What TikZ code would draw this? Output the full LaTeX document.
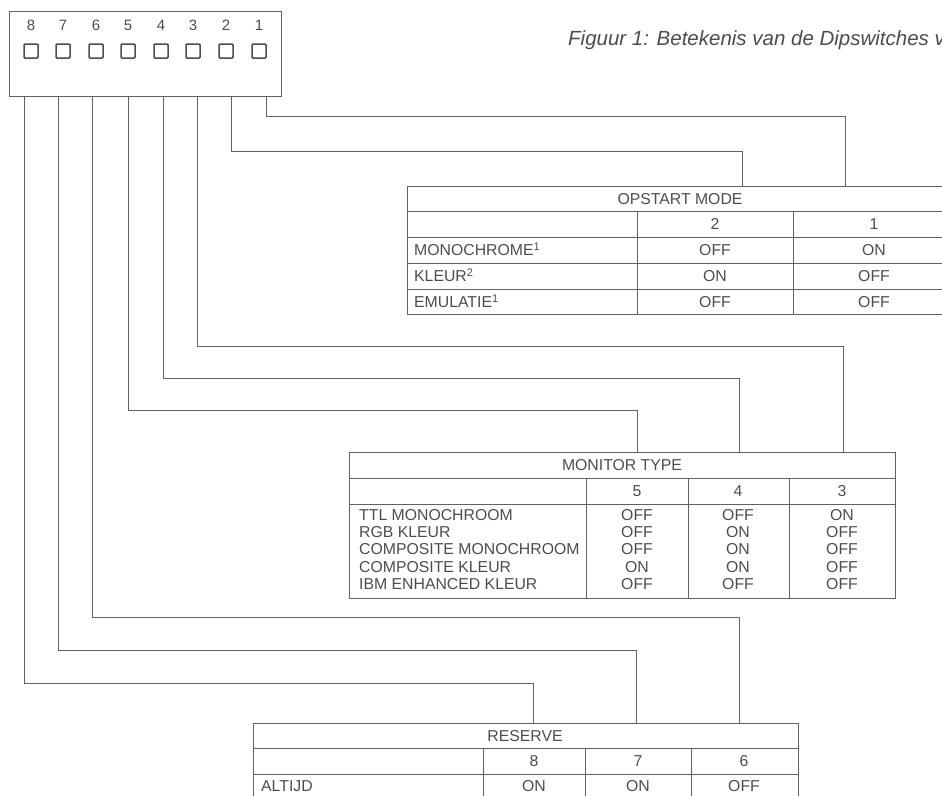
\documentclass[tikz,border=0pt]{standalone}
\usepackage{fontspec}
\setmainfont{Liberation Sans}
\definecolor{ink}{gray}{0.3}
\definecolor{wirec}{gray}{0.38}
\begin{document}
\begin{tikzpicture}[x=1pt,y=-1pt,
  wire/.style={draw=wirec, line width=1pt},
  gridline/.style={draw=wirec, line width=0.9pt},
  frame/.style={draw=wirec, line width=1pt, inner sep=0pt, anchor=north west},
  cell/.style={inner sep=0pt, text=ink, text height=11.2pt, text depth=0pt, font=\fontsize{15.8}{18}\selectfont},
  lcell/.style={cell, anchor=west},
  swsq/.style={draw=ink, line width=1.5pt, minimum size=14pt, inner sep=0pt, rounded corners=1pt},
  swnum/.style={inner sep=0pt, text=ink, font=\fontsize{15}{17}\selectfont},
]
\useasboundingbox (0,0) rectangle (942,795);
\clip (0,0) rectangle (942,795);

% switch box
\node[frame, minimum width=272pt, minimum height=85pt] (box) at (9,11) {};
\foreach \n/\x in {8/31,7/63,6/96,5/128,4/161,3/193,2/226,1/259}{
  \node[swnum] (num\n) at (\x,25) {\n};
  \node[swsq] (sq\n) at (\x,51) {};
}

% title
\node[anchor=west, inner sep=0pt, text=ink, font=\fontsize{20.5}{24}\selectfont\itshape] (title) at (568,40) {Figuur 1: Betekenis van de Dipswitches v};

% pins
\foreach \n/\x in {1/266,2/231,3/197,4/163,5/128,6/92,7/58,8/24}{
  \coordinate (p\n) at (\x,96);
}
% bends
\coordinate (k1) at (266,116);
\coordinate (k2) at (231,151);
\coordinate (k3) at (197,346);
\coordinate (k4) at (163,378);
\coordinate (k5) at (128,410);
\coordinate (k6) at (92,617);
\coordinate (k7) at (58,650);
\coordinate (k8) at (24,683);
% targets
\coordinate (t1) at (845,186);
\coordinate (t2) at (742,186);
\coordinate (t3) at (843,452);
\coordinate (t4) at (739,452);
\coordinate (t5) at (637,452);
\coordinate (t6) at (739,723);
\coordinate (t7) at (636,723);
\coordinate (t8) at (533,723);

\foreach \n in {1,...,8}{
  \draw[wire] (p\n) -- (k\n) -| (t\n);
}

% OPSTART MODE table
\node[frame, minimum width=548pt, minimum height=128pt] (opst) at (407,186) {};
\draw[gridline] (407,211) -- (955,211);
\draw[gridline] (407,237) -- (955,237);
\draw[gridline] (407,263) -- (955,263);
\draw[gridline] (407,289) -- (955,289);
\draw[gridline] (637,211) -- (637,314);
\draw[gridline] (793,211) -- (793,314);
\node[cell] (optitle) at (680,198.5) {OPSTART MODE};
\node[cell] (oph2) at (715,224) {2};
\node[cell] (oph1) at (874,224) {1};
\node[lcell] (opr1) at (414,250) {MONOCHROME\textsuperscript{1}};
\node[lcell] (opr2) at (414,276) {KLEUR\textsuperscript{2}};
\node[lcell] (opr3) at (414,302) {EMULATIE\textsuperscript{1}};
\node[cell] (op12) at (715,250) {OFF};
\node[cell] (op11) at (874,250) {ON};
\node[cell] (op22) at (715,276) {ON};
\node[cell] (op21) at (874,276) {OFF};
\node[cell] (op32) at (715,302) {OFF};
\node[cell] (op31) at (874,302) {OFF};

% MONITOR TYPE table
\node[frame, minimum width=546pt, minimum height=146pt] (mon) at (349,452) {};
\draw[gridline] (349,478) -- (895,478);
\draw[gridline] (349,504) -- (895,504);
\draw[gridline] (586,478) -- (586,598);
\draw[gridline] (688,478) -- (688,598);
\draw[gridline] (789,478) -- (789,598);
\node[cell] (montitle) at (622,465) {MONITOR TYPE};
\node[cell] (mh5) at (637,491) {5};
\node[cell] (mh4) at (738,491) {4};
\node[cell] (mh3) at (842,491) {3};
\foreach \r/\y/\lab/\a/\b/\c in {
  1/515/TTL MONOCHROOM/OFF/OFF/ON,
  2/532/RGB KLEUR/OFF/ON/OFF,
  3/549/COMPOSITE MONOCHROOM/OFF/ON/OFF,
  4/567/COMPOSITE KLEUR/ON/ON/OFF,
  5/584/IBM ENHANCED KLEUR/OFF/OFF/OFF}{
  \node[lcell] (ml\r) at (359,\y) {\lab};
  \node[cell] (m5\r) at (637,\y) {\a};
  \node[cell] (m4\r) at (738,\y) {\b};
  \node[cell] (m3\r) at (842,\y) {\c};
}

% RESERVE table
\node[frame, minimum width=545pt, minimum height=100pt] (res) at (253,723) {};
\draw[gridline] (253,748) -- (798,748);
\draw[gridline] (253,774) -- (798,774);
\draw[gridline] (483,748) -- (483,823);
\draw[gridline] (585,748) -- (585,823);
\draw[gridline] (691,748) -- (691,823);
\node[cell] (restitle) at (525,735.5) {RESERVE};
\node[cell] (rh8) at (534,761) {8};
\node[cell] (rh7) at (638,761) {7};
\node[cell] (rh6) at (744,761) {6};
\node[lcell] (rl1) at (261,786) {ALTIJD};
\node[cell] (r81) at (534,786) {ON};
\node[cell] (r71) at (638,786) {ON};
\node[cell] (r61) at (744,786) {OFF};
\end{tikzpicture}
\end{document}
